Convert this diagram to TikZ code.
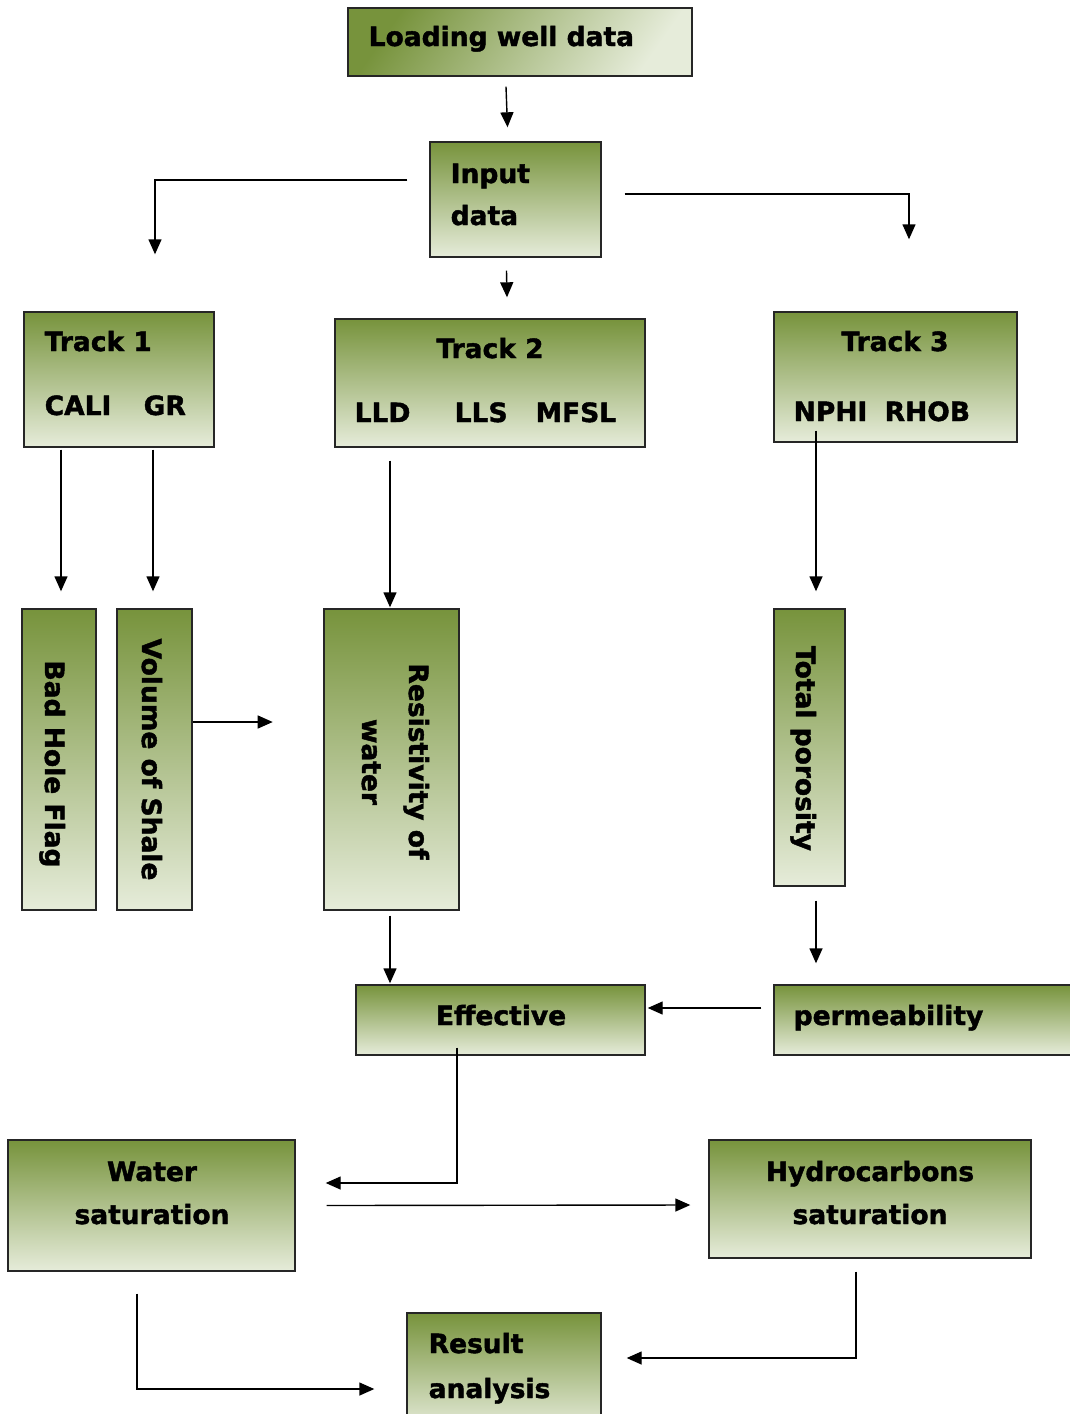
\documentclass[tikz,border=0pt]{standalone}
\usepackage{fontspec}
\setmainfont{DejaVu Sans}[BoldFeatures={FakeBold=1.6}]
\usetikzlibrary{positioning}
\usetikzlibrary{calc}
\usetikzlibrary{arrows.meta}
\definecolor{olivetop}{RGB}{119,147,60}
\definecolor{olivebot}{RGB}{230,236,218}

\begin{document}
\begin{tikzpicture}[x=1pt,y=-1pt,->,>={Triangle[length=15pt,width=13pt]},line width=1.4pt,
    box/.style={draw=black!85,line width=1.4pt,top color=olivetop,bottom color=olivebot,inner sep=0pt},
    lbl/.style={font=\bfseries\fontsize{26.5}{32}\selectfont,inner sep=0pt},
    vlbl/.style={lbl,rotate=-90,anchor=base}]
  \useasboundingbox (0,0) rectangle (1069,1414);

  % boxes
  \node[box,minimum width=344pt,minimum height=68pt,shading angle=55] (load) at (520,42) {};
  \node[box,minimum width=171pt,minimum height=115pt] (input) at (515.5,199.5) {};
  \node[box,minimum width=190pt,minimum height=135pt] (trk1) at (119,379.5) {};
  \node[box,minimum width=310pt,minimum height=128pt] (trk2) at (490,383) {};
  \node[box,minimum width=243pt,minimum height=130pt] (trk3) at (895.5,377) {};
  \node[box,minimum width=74pt,minimum height=301pt] (bhf) at (59,759.5) {};
  \node[box,minimum width=75pt,minimum height=301pt] (vsh) at (154.5,759.5) {};
  \node[box,minimum width=135pt,minimum height=301pt] (rw) at (391.5,759.5) {};
  \node[box,minimum width=71pt,minimum height=277pt] (phit) at (809.5,747.5) {};
  \node[box,minimum width=289pt,minimum height=70pt] (eff) at (500.5,1020) {};
  \node[box,minimum width=310pt,minimum height=70pt] (perm) at (929,1020) {};
  \node[box,minimum width=287pt,minimum height=131pt] (wsat) at (151.5,1205.5) {};
  \node[box,minimum width=322pt,minimum height=118pt] (hsat) at (870,1199) {};
  \node[box,minimum width=194pt,minimum height=117pt] (res) at (504,1371.5) {};

  % texts
  \node[lbl,anchor=base west] (t-load) at (368,46) {Loading well data};
  \node[lbl,anchor=base west] (t-in1) at (450,183) {Input};
  \node[lbl,anchor=base west] (t-in2) at (450,225) {data};
  \node[lbl,anchor=base west] (t-trk1) at (44,351) {Track 1};
  \node[lbl,anchor=base west] (t-cali) at (44,415) {CALI};
  \node[lbl,anchor=base west] (t-gr) at (143,415) {GR};
  \node[lbl,anchor=base] (t-trk2) at (490,358) {Track 2};
  \node[lbl,anchor=base west] (t-lld) at (354,422) {LLD};
  \node[lbl,anchor=base west] (t-lls) at (454,422) {LLS};
  \node[lbl,anchor=base west] (t-mfsl) at (535,422) {MFSL};
  \node[lbl,anchor=base] (t-trk3) at (895,351) {Track 3};
  \node[lbl,anchor=base west] (t-nphi) at (793,421) {NPHI};
  \node[lbl,anchor=base west] (t-rhob) at (884,421) {RHOB};
  \node[vlbl] (t-bhf) at (45,764) {Bad Hole Flag};
  \node[vlbl] (t-vsh) at (142,759.5) {Volume of Shale};
  \node[vlbl] (t-rw1) at (409,761.5) {Resistivity of};
  \node[vlbl] (t-rw2) at (362,762) {water};
  \node[vlbl] (t-phit) at (796,748.5) {Total porosity};
  \node[lbl,anchor=base] (t-eff) at (501,1025) {Effective};
  \node[lbl,anchor=base west] (t-perm) at (793,1025) {permeability};
  \node[lbl,anchor=base] (t-ws1) at (152,1181) {Water};
  \node[lbl,anchor=base] (t-ws2) at (152,1224) {saturation};
  \node[lbl,anchor=base] (t-hs1) at (870,1181) {Hydrocarbons};
  \node[lbl,anchor=base] (t-hs2) at (870,1224) {saturation};
  \node[lbl,anchor=base west] (t-res1) at (428,1353) {Result};
  \node[lbl,anchor=base west] (t-res2) at (428,1398) {analysis};

  % connectors
  \draw ($(load.south)+(-14,10)$) -- ($(input.north)+(-8,-14)$);
  \draw ($(input.west)+(-22,-19.5)$) -| ($(trk1.north)+(36,-57)$);
  \draw ($(input.east)+(23,-5.5)$) -| ($(trk3.north)+(13.5,-72)$);
  \draw ($(input.south)+(-9,13)$) -- ($(trk2.north)+(17,-21)$);
  \draw ($(trk1.south)+(-58,2)$) -- ($(bhf.north)+(2,-17)$);
  \draw ($(trk1.south)+(34,2)$) -- ($(vsh.north)+(-1.5,-17)$);
  \draw ($(trk2.south)+(-100,13)$) -- ($(rw.north)+(-1.5,-1)$);
  \draw ($(trk3.south)+(-79.5,-12)$) -- ($(phit.north)+(6.5,-17)$);
  \draw ($(vsh.east)+(0,-37.5)$) -- ++(80,0);
  \draw ($(rw.south)+(-1.5,5)$) -- ($(eff.north)+(-110.5,-1)$);
  \draw ($(phit.south)+(6.5,14)$) -- ($(perm.north)+(-113,-21)$);
  \draw ($(perm.west)+(-12,-12)$) -- ($(eff.east)+(2,-12)$);
  \draw ($(eff.south)+(-43.5,-8)$) |- ($(wsat.east)+(30,-22.5)$);
  \draw ($(wsat.east)+(31,0)$) -- ($(hsat.west)+(-18,6)$);
  \draw ($(hsat.south)+(-14,13)$) |- ($(res.east)+(25,-13.5)$);
  \draw ($(wsat.south)+(-14.5,22)$) |- ($(res.west)+(-32,17.5)$);
\end{tikzpicture}
\end{document}
